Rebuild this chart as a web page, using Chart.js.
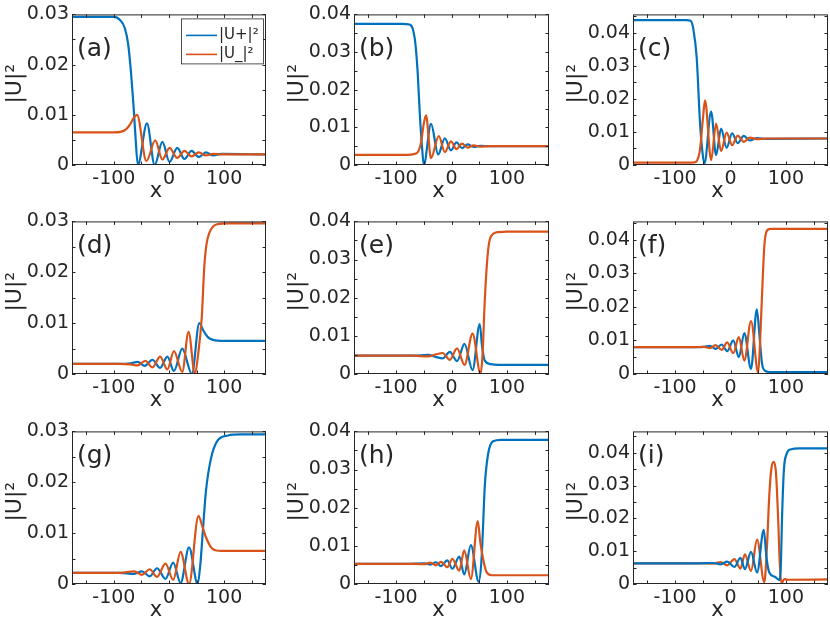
<!DOCTYPE html>
<html lang="en">
<head>
  <meta charset="UTF-8" />
  <title>|U|² profiles</title>
  <script src="https://cdn.jsdelivr.net/npm/chart.js"></script>
  <style>
    body { margin: 0; background: #fff; overflow: hidden; }
    #fig { position: relative; width: 830px; height: 617px; }
    #fig canvas { position: absolute; }
  </style>
</head>
<body>
  <div id="fig"></div>

  <script>
    // values, [x, |U|^2]
    const blueA = [[-176,0.0295],[-100,0.0295],[-89,0.0289],[-80,0.0272],[-74,0.0240],[-69,0.0185],[-65,0.0128],[-61,0.0060],[-56.5,0.0],[-40,0.0083],[-26,0.0],[-12,0.0046],[1,0.0006],[15,0.0034],[28,0.0012],[41,0.0028],[54,0.0016],[67,0.0025],[80,0.0019],[95,0.0022],[176,0.0021]];
    const orangeA = [[-176,0.0065],[-100,0.0065],[-88,0.0066],[-78,0.0071],[-70,0.0082],[-64,0.0094],[-58,0.0100],[-41,0.0008],[-25,0.0049],[-12,0.0011],[1,0.0034],[15,0.0014],[28,0.0028],[41,0.0017],[54,0.0025],[67,0.0019],[80,0.0022],[95,0.0021],[176,0.0021]];

    const blueB = [[-176,0.0375],[-90,0.0375],[-76,0.0373],[-70,0.0362],[-65,0.0320],[-61,0.0244],[-57,0.0130],[-53,0.0044],[-50,0.0],[-37,0.0109],[-24,0.0028],[-12,0.0071],[-1,0.0039],[9,0.0060],[19,0.0045],[29,0.0055],[40,0.0048],[52,0.0051],[70,0.0050],[176,0.0050]];
    const orangeB = [[-176,0.0027],[-80,0.0027],[-68,0.0029],[-60,0.0036],[-55,0.0060],[-50,0.0110],[-46,0.0132],[-37,0.0018],[-23,0.0077],[-12,0.0034],[-1,0.0063],[9,0.0042],[19,0.0057],[29,0.0046],[40,0.0052],[52,0.0049],[70,0.0050],[176,0.0050]];

    const blueC = [[-176,0.0438],[-80,0.0438],[-72,0.0436],[-67,0.0410],[-61,0.0324],[-55,0.0126],[-50,0.0030],[-47,0.0005],[-35,0.0161],[-26,0.0030],[-17,0.0110],[-7,0.0052],[3,0.0096],[13,0.0066],[24,0.0088],[35,0.0074],[48,0.0081],[65,0.0079],[176,0.0080]];
    const orangeC = [[-176,0.0007],[-75,0.0007],[-66,0.0008],[-61,0.0012],[-55,0.0047],[-50,0.0136],[-46,0.0195],[-35,0.0015],[-26,0.0125],[-17,0.0042],[-7,0.0098],[3,0.0060],[13,0.0089],[24,0.0070],[35,0.0083],[48,0.0078],[65,0.0080],[176,0.0080]];

    const blueD = [[-176,0.0020],[-90,0.0020],[-70,0.0021],[-57,0.0024],[-44,0.0016],[-30,0.0028],[-16,0.0012],[-3,0.0034],[9,0.0006],[24,0.0050],[41.5,0.0],[55,0.0100],[62,0.0086],[70,0.0073],[80,0.0067],[100,0.0065],[176,0.0065]];
    const orangeD = [[-176,0.0020],[-90,0.0020],[-70,0.0019],[-57,0.0017],[-43,0.0026],[-30,0.0013],[-16,0.0034],[-3,0.0009],[9,0.0045],[24,0.0004],[35.5,0.0083],[47,0.0],[53,0.0040],[59.5,0.0112],[64,0.0210],[68,0.0255],[73,0.0277],[86,0.0294],[110,0.0296],[176,0.0296]];

    const blueE = [[-176,0.0048],[-70,0.0048],[-42,0.0050],[-29,0.0045],[-16,0.0041],[-3,0.0058],[10,0.0034],[23.5,0.0079],[38,0.0010],[51,0.0131],[55,0.0075],[60,0.0035],[70,0.0026],[90,0.0024],[176,0.0024]];
    const orangeE = [[-176,0.0048],[-70,0.0048],[-42,0.0046],[-29,0.0051],[-16,0.0055],[-3,0.0037],[10,0.0067],[23.5,0.0024],[38,0.0106],[52.5,0.0],[56,0.0050],[60,0.0190],[64,0.0290],[68,0.0345],[75,0.0367],[85,0.0372],[100,0.0373],[176,0.0373]];

    const blueF = [[-176,0.0080],[-70,0.0080],[-48,0.0081],[-37,0.0084],[-27,0.0075],[-16,0.0088],[-6,0.0068],[5,0.0100],[15,0.0050],[25,0.0122],[37,0.0015],[47.5,0.0193],[53,0.0100],[57,0.0030],[62,0.0010],[70,0.0006],[176,0.0006]];
    const orangeF = [[-176,0.0080],[-70,0.0080],[-48,0.0081],[-37,0.0077],[-27,0.0086],[-16,0.0072],[-6,0.0094],[5,0.0062],[15,0.0110],[25,0.0040],[37,0.0158],[50,0.0004],[53,0.0080],[56.4,0.0215],[61,0.0380],[65,0.0425],[72,0.0433],[90,0.0433],[176,0.0433]];

    const blueG = [[-176,0.0022],[-90,0.0022],[-63,0.0020],[-49,0.0025],[-35,0.0015],[-21.7,0.0031],[-6.4,0.0010],[7.6,0.0042],[21,0.0002],[36.4,0.0072],[52,0.0],[57,0.0040],[61,0.0098],[67,0.0182],[76,0.0246],[88,0.0282],[107,0.0292],[130,0.0294],[176,0.0294]];
    const orangeG = [[-176,0.0022],[-90,0.0022],[-63,0.0025],[-49,0.0018],[-35,0.0029],[-21.7,0.0014],[-6.4,0.0040],[7.6,0.0008],[21,0.0063],[36.4,0.0],[53.5,0.0134],[60,0.0115],[67,0.0092],[79,0.0069],[95,0.0065],[176,0.0065]];

    const blueH = [[-176,0.0053],[-80,0.0053],[-49,0.0054],[-38,0.0051],[-28,0.0057],[-19,0.0047],[-7.6,0.0062],[1.6,0.0040],[14,0.0072],[23,0.0025],[35,0.0102],[49,0.0006],[54,0.0060],[57,0.0152],[60,0.0255],[66,0.0340],[75,0.0374],[90,0.0378],[176,0.0378]];
    const orangeH = [[-176,0.0053],[-80,0.0053],[-49,0.0052],[-38,0.0056],[-28,0.0049],[-19,0.0058],[-7.6,0.0044],[1.6,0.0066],[14,0.0035],[23,0.0088],[35,0.0013],[47.4,0.0165],[52,0.0110],[57,0.0066],[63,0.0032],[72,0.0023],[90,0.0023],[176,0.0023]];

    const blueI = [[-176,0.0063],[-60,0.0063],[-30,0.0064],[-18,0.0060],[-6,0.0068],[7,0.0052],[18,0.0080],[26,0.0045],[37,0.0098],[48,0.0035],[60,0.0165],[65,0.0080],[70,0.0035],[80,0.0022],[88.5,0.0012],[91,0.0060],[93,0.0200],[96.5,0.0350],[101,0.0395],[108,0.0410],[125,0.0413],[176,0.0413]];
    const orangeI = [[-176,0.0063],[-60,0.0063],[-30,0.0062],[-18,0.0067],[-6,0.0057],[7,0.0076],[18,0.0047],[26,0.0090],[37,0.0040],[48,0.0135],[61,0.0005],[66,0.0120],[70,0.0270],[74,0.0355],[78,0.0372],[82,0.0340],[86,0.0200],[89,0.0060],[92,0.0002],[97,0.0015],[104,0.0013],[176,0.0014]];

    const blueSets = [blueA, blueB, blueC, blueD, blueE, blueF, blueG, blueH, blueI];
    const orangeSets = [orangeA, orangeB, orangeC, orangeD, orangeE, orangeF, orangeG, orangeH, orangeI];
    const letters = ['(a)', '(b)', '(c)', '(d)', '(e)', '(f)', '(g)', '(h)', '(i)'];
    const yMax = [0.03, 0.04, 0.0455, 0.03, 0.04, 0.0455, 0.03, 0.04, 0.0465];
    const blueOnTop = [false, false, false, false, false, false, false, false, true];
    const seriesNames = ['|U+|²', '|U_|²'];
    const xTickVals = [-150, -100, -50, 0, 50, 100, 150];
    const xLabeled = [-100, 0, 100];
    const yTickVals = [0, 0.005, 0.01, 0.015, 0.02, 0.025, 0.03, 0.035, 0.04, 0.045];
    const xMin = -176, xMax = 176;

    // axes boxes in page pixels
    const colL = [72, 354, 633], colR = [266, 549, 828];
    const rowT = [12, 219, 429], rowB = [165, 374, 584];
    const letterDy = [35, 25, 25];

    const BLUE = '#0072BD', ORANGE = '#D95319', INK = '#262626';
    const FONT = "'DejaVu Sans', sans-serif";
    const YW = 71, XH = 38, PADT = 12, PADR = 2;

    const yFmt = v => {
      const c = Math.round(v * 100);
      if (Math.abs(v * 100 - c) > 1e-6) return '';
      return c === 0 ? '0' : (c / 100).toFixed(2);
    };

    const framePlugin = {
      id: 'frame',
      afterDatasetsDraw(chart) {
        const { ctx, chartArea: a, scales: { x, y } } = chart;
        ctx.save();
        ctx.strokeStyle = INK;
        ctx.lineWidth = 1;
        ctx.beginPath();
        x.ticks.forEach(t => {
          const px = Math.round(x.getPixelForValue(t.value)) + 0.5;
          ctx.moveTo(px, a.bottom); ctx.lineTo(px, a.bottom - 3.5);
          ctx.moveTo(px, a.top); ctx.lineTo(px, a.top + 3.5);
        });
        y.ticks.forEach(t => {
          const py = Math.round(y.getPixelForValue(t.value)) + 0.5;
          ctx.moveTo(a.left, py); ctx.lineTo(a.left + 3.5, py);
          ctx.moveTo(a.right, py); ctx.lineTo(a.right - 3.5, py);
        });
        ctx.stroke();
        ctx.strokeRect(a.left + 0.5, a.top + 0.5, a.width - 1, a.height - 1);
        ctx.restore();
      },
      afterDraw(chart, args, opts) {
        const { ctx, chartArea: a } = chart;
        ctx.save();
        ctx.fillStyle = INK;
        ctx.textBaseline = 'middle';

        ctx.font = '25px ' + FONT;
        ctx.textAlign = 'left';
        ctx.fillText(opts.letter, a.left + 5, a.top + opts.letterDy);

        ctx.font = '21px ' + FONT;
        ctx.textAlign = 'center';
        ctx.fillText('x', (a.left + a.right) / 2 - 13, a.bottom + 27);

        ctx.save();
        ctx.translate(a.left - 57, (a.top + a.bottom) / 2 - 6);
        ctx.rotate(-Math.PI / 2);
        ctx.font = '22px ' + FONT;
        ctx.fillText('|U|²', 0, 0);
        ctx.restore();

        if (opts.legend) {
          const bx = a.left + 109, by = a.top + 4, bw = 82, bh = 45;
          ctx.fillStyle = '#fff';
          ctx.fillRect(bx, by, bw, bh);
          ctx.strokeStyle = INK;
          ctx.lineWidth = 0.8;
          ctx.strokeRect(bx + 0.5, by + 0.5, bw, bh);
          chart.data.datasets.forEach((ds, k) => {
            const ly = by + 17 + k * 19;
            ctx.strokeStyle = ds.borderColor;
            ctx.lineWidth = 1.6;
            ctx.beginPath();
            ctx.moveTo(bx + 5, ly); ctx.lineTo(bx + 36, ly);
            ctx.stroke();
            ctx.fillStyle = INK;
            ctx.font = '15px ' + FONT;
            ctx.textAlign = 'left';
            ctx.fillText(ds.label, bx + 38, ly);
          });
        }
        ctx.restore();
      }
    };

    const fig = document.getElementById('fig');
    const toPts = arr => arr.map(p => ({ x: p[0], y: p[1] }));

    letters.forEach((letter, i) => {
      const c = i % 3, r = Math.floor(i / 3);
      const cv = document.createElement('canvas');
      cv.width = colR[c] - colL[c] + YW + PADR;
      cv.height = rowB[r] - rowT[r] + PADT + XH;
      cv.style.left = (colL[c] - YW) + 'px';
      cv.style.top = (rowT[r] - PADT) + 'px';
      fig.appendChild(cv);

      const line = { borderWidth: 2.2, pointRadius: 0, cubicInterpolationMode: 'monotone', fill: false };

      new Chart(cv, {
        type: 'line',
        data: {
          datasets: [
            { ...line, label: seriesNames[0], data: toPts(blueSets[i]), borderColor: BLUE, order: blueOnTop[i] ? 0 : 1 },
            { ...line, label: seriesNames[1], data: toPts(orangeSets[i]), borderColor: ORANGE, order: blueOnTop[i] ? 1 : 0 }
          ]
        },
        options: {
          responsive: false,
          animation: false,
          events: [],
          layout: { padding: { top: PADT, right: PADR, left: 0, bottom: 0 } },
          plugins: {
            legend: { display: false },
            tooltip: { enabled: false },
            frame: { letter: letter, letterDy: letterDy[r], legend: i === 0 }
          },
          scales: {
            x: {
              type: 'linear', min: xMin, max: xMax,
              grid: { display: false, drawTicks: false },
              border: { display: false },
              afterBuildTicks: s => { s.ticks = xTickVals.map(v => ({ value: v })); },
              ticks: {
                autoSkip: false, maxRotation: 0, minRotation: 0,
                padding: 3, color: INK, font: { family: FONT, size: 19 },
                callback: v => xLabeled.includes(v) ? String(v) : ''
              },
              afterFit: s => { s.height = XH; }
            },
            y: {
              type: 'linear', min: 0, max: yMax[i],
              grid: { display: false, drawTicks: false },
              border: { display: false },
              afterBuildTicks: s => { s.ticks = yTickVals.filter(v => v <= yMax[i] + 1e-9).map(v => ({ value: v })); },
              ticks: {
                autoSkip: false,
                padding: 3, color: INK, font: { family: FONT, size: 19 },
                callback: yFmt
              },
              afterFit: s => { s.width = YW; }
            }
          }
        },
        plugins: [framePlugin]
      });
    });
  </script>
</body>
</html>
